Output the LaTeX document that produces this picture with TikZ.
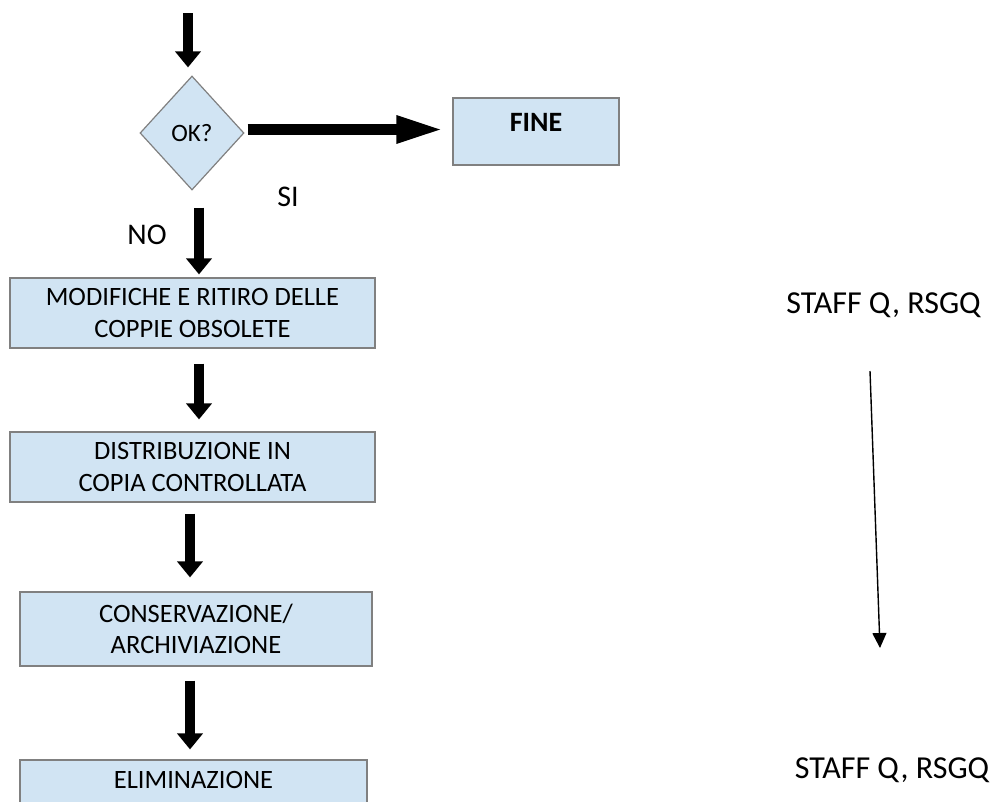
\documentclass[tikz,border=0pt]{standalone}
\usepackage{fontspec}
\setmainfont{Carlito}
\usetikzlibrary{positioning,shapes.geometric,arrows.meta}
\definecolor{boxblue}{RGB}{209,228,243}
\definecolor{boxline}{RGB}{128,128,128}
\tikzset{
  stepbox/.style={draw=boxline, fill=boxblue, line width=1.2pt, minimum width=365pt,
    minimum height=70pt, align=center, inner sep=0pt, font=\fontsize{26.5}{31.5}\selectfont},
  flow/.style={line width=10pt, -{Triangle[length=16pt,width=25pt]}},
  note/.style={inner sep=0pt, font=\fontsize{32}{36}\selectfont},
}

\begin{document}
\begin{tikzpicture}[x=1pt,y=-1pt]
    \useasboundingbox (0,0) rectangle (995,801);
    \clip (0,0) rectangle (995,801);
    \node[diamond, draw=boxline, fill=boxblue, line width=1.2pt, minimum width=104pt,
      minimum height=114pt, inner sep=0pt, font=\fontsize{25}{28}\selectfont] (ok) at (192,133) {OK?};
    \node[stepbox, minimum width=166pt, minimum height=67pt, text depth=19pt,
      font=\bfseries\fontsize{28}{31}\selectfont] (fine) at (536,131.5) {FINE};
    \node[stepbox] (mod) at (192.5,313) {MODIFICHE E RITIRO DELLE\\COPPIE OBSOLETE};
    \node[stepbox] (dist) at (192.5,467) {DISTRIBUZIONE IN\\COPIA CONTROLLATA};
    \node[stepbox, minimum width=352pt, minimum height=74pt] (cons) at (196,629) {CONSERVAZIONE/\\ARCHIVIAZIONE};
    \node[stepbox, minimum width=347pt, text depth=30pt] (elim) at (193.5,795) {ELIMINAZIONE};
    \node[note, font=\fontsize{30}{36}\selectfont] (si) at (288,197) {SI};
    \node[note, font=\fontsize{30}{36}\selectfont] (no) at (147,235) {NO};
    \node[note] (staff_1) at (883.5,305) {STAFF Q, RSGQ};
    \node[note] (staff_2) at (892,770) {STAFF Q, RSGQ};
    \coordinate (start) at (188,13);
    \draw[flow, shorten >=8pt] (start) -- (start |- ok.north);
    \draw[flow, line width=11pt, -{Triangle[length=48pt,width=25pt]}, shorten <=3pt, shorten >=8pt]
      ([yshift=3.5pt]ok.east) -- ([yshift=3.5pt]ok.east -| fine.west);
    \draw[flow, shorten <=17pt, shorten >=3pt] ([xshift=7pt]ok.south) -- ([xshift=7pt]ok.south |- mod.north);
    \draw[flow, shorten <=15pt, shorten >=12pt] ([xshift=6.5pt]mod.south) -- ([xshift=6.5pt]mod.south |- dist.north);
    \draw[flow, shorten <=11pt, shorten >=14pt] ([xshift=-2.5pt]dist.south) -- ([xshift=-2.5pt]dist.south |- cons.north);
    \draw[flow, shorten <=14pt, shorten >=10pt] ([xshift=-6pt]cons.south) -- ([xshift=-6pt]cons.south |- elim.north);
    \coordinate (staff_from) at (870,371);
    \coordinate (staff_to) at (880,648);
    \draw[line width=1.4pt, -{Triangle[length=15pt,width=14pt]}] (staff_from) -- (staff_to);
\end{tikzpicture}
\end{document}
